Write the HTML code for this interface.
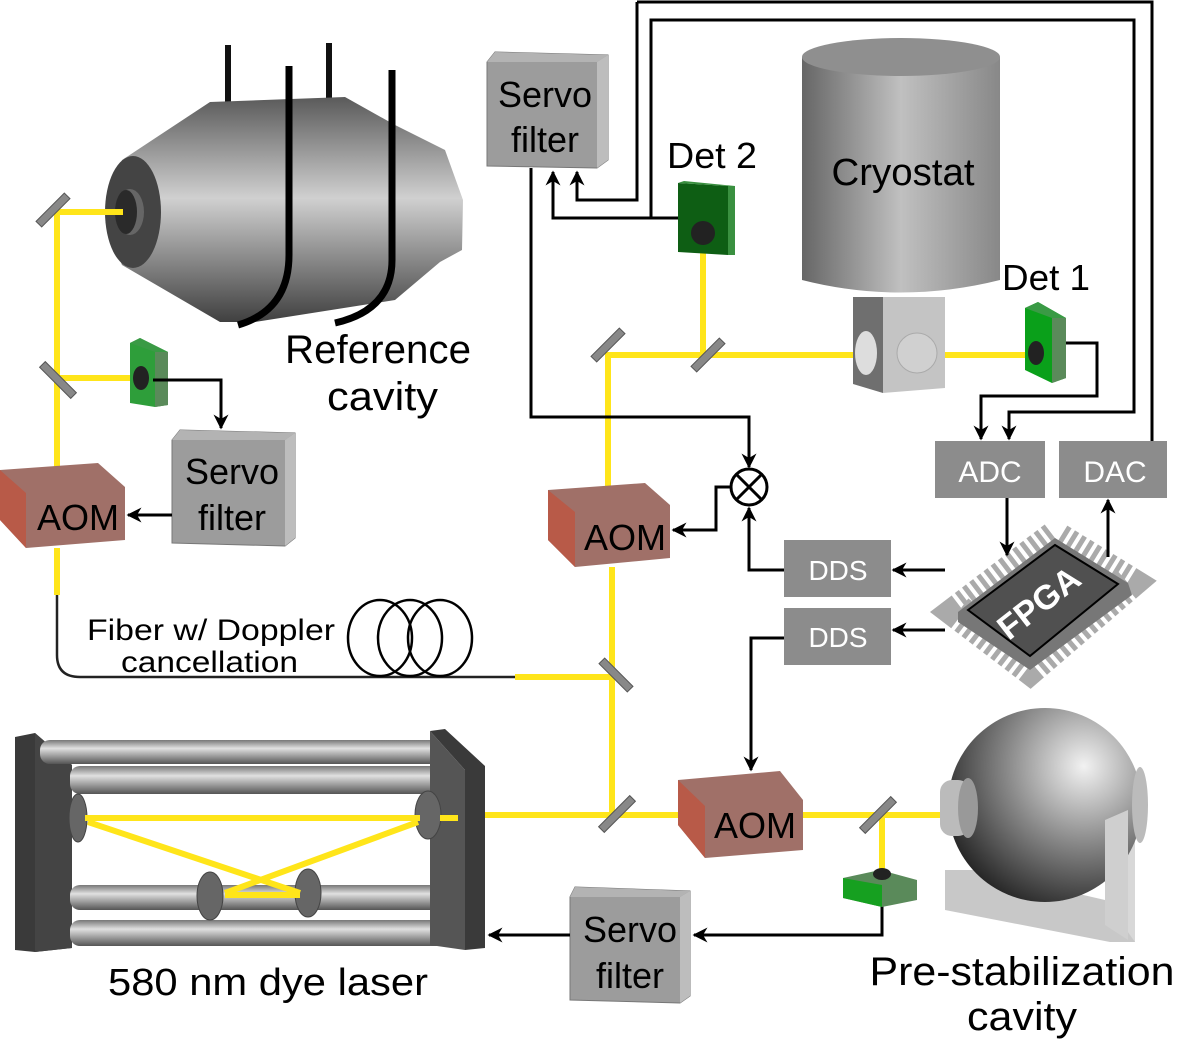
<!DOCTYPE html>
<html><head><meta charset="utf-8"><style>
html,body{margin:0;padding:0;background:#fff}
svg{display:block}
text{font-family:"Liberation Sans",sans-serif}
</style></head><body>
<svg width="1177" height="1042" viewBox="0 0 1177 1042" xmlns="http://www.w3.org/2000/svg">
<defs>
<linearGradient id="gv" x1="0" y1="0" x2="0" y2="1">
<stop offset="0" stop-color="#5a5a5a"/><stop offset="0.45" stop-color="#d0d0d0"/><stop offset="1" stop-color="#404040"/></linearGradient>
<linearGradient id="gh" x1="0" y1="0" x2="1" y2="0">
<stop offset="0" stop-color="#666"/><stop offset="0.5" stop-color="#c0c0c0"/><stop offset="1" stop-color="#888"/></linearGradient>
<linearGradient id="rod" x1="0" y1="0" x2="0" y2="1">
<stop offset="0" stop-color="#777"/><stop offset="0.35" stop-color="#e0e0e0"/><stop offset="1" stop-color="#555"/></linearGradient>
<radialGradient id="sph" cx="0.7" cy="0.3" r="0.8">
<stop offset="0" stop-color="#f2f2f2"/><stop offset="0.5" stop-color="#888"/><stop offset="1" stop-color="#222"/></radialGradient>
<marker id="ar" viewBox="0 0 10 10" refX="9" refY="5" markerWidth="5" markerHeight="5" orient="auto"><path d="M0,0 L10,5 L0,10 L3,5z" fill="#000"/></marker>
</defs>

<!-- Reference cavity -->
<line x1="228" y1="45" x2="228" y2="105" stroke="#111" stroke-width="6"/>
<line x1="329" y1="43" x2="329" y2="100" stroke="#111" stroke-width="6"/>
<path d="M122,160 L210,102 L345,97 L395,125 L445,150 L463,200 L462,250 L440,262 L395,300 L255,322 L220,322 L122,265 Q100,215 122,160z" fill="url(#gv)"/>
<ellipse cx="133" cy="212" rx="28" ry="56" fill="#444"/>
<ellipse cx="130" cy="212" rx="14" ry="23" fill="#666"/>
<ellipse cx="126" cy="212" rx="11" ry="22" fill="#2a2a2a"/>
<path d="M289,66 L289,255 Q289,310 238,325" fill="none" stroke="#000" stroke-width="7"/>
<path d="M392,70 L392,260 Q392,310 335,323" fill="none" stroke="#000" stroke-width="7"/>
<text x="285" y="363" font-size="40" textLength="186" lengthAdjust="spacingAndGlyphs">Reference</text>
<text x="327" y="410" font-size="40" textLength="111" lengthAdjust="spacingAndGlyphs">cavity</text>

<!-- yellow beams -->
<g stroke="#ffe51a" stroke-width="6" fill="none">
<path d="M123,212 L57,212 L57,470"/>
<path d="M57,378 L133,378"/>
<path d="M57,548 L57,595"/>
<path d="M703,245 L703,355"/>
<path d="M862,355 L608,355 L608,490"/>
<path d="M945,355 L1032,355"/>
<path d="M612,567 L612,815"/>
<path d="M515,677 L612,677"/>
<path d="M485,815 L680,815"/>
<path d="M803,815 L950,815"/>
<path d="M882,815 L882,873"/>
</g>

<!-- mirrors -->
<g fill="#888" stroke="#555" stroke-width="1">
<rect x="-4" y="-20" width="8" height="40" transform="translate(53,210) rotate(45)"/>
<rect x="-4" y="-22" width="8" height="44" transform="translate(58,380) rotate(-45)"/>
<rect x="-4" y="-20" width="8" height="40" transform="translate(608,345) rotate(45)"/>
<rect x="-4" y="-20" width="8" height="40" transform="translate(708,355) rotate(45)"/>
<rect x="-4" y="-20" width="8" height="40" transform="translate(616,675) rotate(-45)"/>
<rect x="-4" y="-22" width="8" height="44" transform="translate(617,814) rotate(45)"/>
<rect x="-4" y="-22" width="8" height="44" transform="translate(878,815) rotate(45)"/>
</g>

<!-- small detector left -->
<polygon points="130,343 140,338 168,352 168,405 155,407 130,403" fill="#2e9e3a"/>
<polygon points="155,352 168,352 168,405 155,407" fill="#5a8a5a"/>
<polygon points="130,343 140,338 168,352 155,352" fill="#3a9a45"/>
<ellipse cx="141" cy="378" rx="8" ry="12" fill="#222"/>

<!-- Det 2 -->
<polygon points="678,183 728,186 728,255 678,252" fill="#0e5e14"/>
<polygon points="728,186 735,186 735,255 728,255" fill="#3a9040"/>
<polygon points="678,183 684,181 735,186 728,186" fill="#3a9040"/>
<circle cx="703" cy="233" r="12" fill="#222"/>
<text x="667" y="168" font-size="36" textLength="90" lengthAdjust="spacingAndGlyphs">Det 2</text>

<!-- Cryostat -->
<path d="M802,57 L802,280 Q900,305 1000,280 L1000,57z" fill="url(#gh)"/>
<ellipse cx="901" cy="57" rx="99" ry="19" fill="#8f8f8f"/>
<polygon points="853,297 883,297 883,393 853,384" fill="#6f6f6f"/>
<polygon points="883,297 945,297 945,388 883,393" fill="#c4c4c4"/>
<ellipse cx="866" cy="353" rx="11" ry="22" fill="#ddd"/>
<circle cx="917" cy="353" r="20" fill="#d0d0d0" stroke="#aaa"/>
<text x="903" y="185" font-size="38" text-anchor="middle" textLength="143" lengthAdjust="spacingAndGlyphs">Cryostat</text>

<!-- Det 1 -->
<polygon points="1025,308 1038,302 1066,318 1066,378 1052,383 1025,370" fill="#0aa01a"/>
<polygon points="1052,318 1066,318 1066,378 1052,383" fill="#5a8a5a"/>
<polygon points="1025,308 1038,302 1066,318 1052,318" fill="#3a9a45"/>
<ellipse cx="1036" cy="353" rx="8" ry="12" fill="#222"/>
<text x="1002" y="290" font-size="36" textLength="88" lengthAdjust="spacingAndGlyphs">Det 1</text>

<!-- Servo boxes -->
<g>
<polygon points="487,62 495,52 608,55 608,160 597,168 487,166" fill="#9c9c9c" stroke="#777"/>
<polygon points="597,62 608,55 608,160 597,168" fill="#bdbdbd"/>
<polygon points="487,62 495,52 608,55 597,62" fill="#b3b3b3"/>
<text x="545" y="107" font-size="36" text-anchor="middle">Servo</text>
<text x="545" y="152" font-size="36" text-anchor="middle">filter</text>
</g>
<g>
<polygon points="172,440 180,430 295,433 295,538 285,546 172,543" fill="#9c9c9c" stroke="#777"/>
<polygon points="285,440 295,433 295,538 285,546" fill="#bdbdbd"/>
<polygon points="172,440 180,430 295,433 285,440" fill="#b3b3b3"/>
<text x="232" y="484" font-size="36" text-anchor="middle">Servo</text>
<text x="232" y="530" font-size="36" text-anchor="middle">filter</text>
</g>
<g>
<polygon points="570,897 575,887 690,891 690,996 680,1003 570,1000" fill="#9c9c9c" stroke="#777"/>
<polygon points="680,897 690,891 690,996 680,1003" fill="#bdbdbd"/>
<polygon points="570,897 575,887 690,891 680,897" fill="#b3b3b3"/>
<text x="630" y="942" font-size="36" text-anchor="middle">Servo</text>
<text x="630" y="988" font-size="36" text-anchor="middle">filter</text>
</g>

<!-- AOMs -->
<g>
<polygon points="0,470 98,463 125,487 125,540 26,548 0,520" fill="#a07068"/>
<polygon points="0,470 26,493 26,548 0,520" fill="#b85a48"/>
<text x="78" y="530" font-size="36" text-anchor="middle">AOM</text>
</g>
<g>
<polygon points="548,490 645,483 670,505 670,558 575,567 548,540" fill="#a07068"/>
<polygon points="548,490 575,512 575,567 548,540" fill="#b85a48"/>
<text x="625" y="550" font-size="36" text-anchor="middle">AOM</text>
</g>
<g>
<polygon points="678,780 780,771 803,800 803,850 705,858 678,825" fill="#a07068"/>
<polygon points="678,780 705,806 705,858 678,825" fill="#b85a48"/>
<text x="755" y="838" font-size="36" text-anchor="middle">AOM</text>
</g>

<!-- ADC/DAC/DDS -->
<rect x="935" y="441" width="110" height="57" fill="#8c8c8c"/>
<text x="990" y="482" font-size="30" fill="#fff" text-anchor="middle">ADC</text>
<rect x="1059" y="441" width="108" height="57" fill="#8c8c8c"/>
<text x="1115" y="482" font-size="30" fill="#fff" text-anchor="middle">DAC</text>
<rect x="784" y="540" width="107" height="57" fill="#8c8c8c"/>
<text x="838" y="580" font-size="28" fill="#fff" text-anchor="middle">DDS</text>
<rect x="784" y="608" width="107" height="57" fill="#8c8c8c"/>
<text x="838" y="647" font-size="28" fill="#fff" text-anchor="middle">DDS</text>

<!-- FPGA -->
<path d="M958,612 L1055,538 L1128,583 L1030,667z" fill="none" stroke="#aaa" stroke-width="34" stroke-dasharray="5 4"/>
<polygon points="958,612 1055,538 1128,583 1132,595 1030,670 958,622" fill="#777"/>
<polygon points="968,610 1055,545 1118,584 1030,656" fill="#505050" stroke="#000" stroke-width="2"/>
<text x="0" y="0" font-size="34" font-weight="bold" fill="#fff" text-anchor="middle" transform="translate(1046,612) rotate(-38)">FPGA</text>

<!-- crossed circle -->
<circle cx="749" cy="487" r="18" fill="#fff" stroke="#000" stroke-width="3"/>
<path d="M736,474 L762,500 M762,474 L736,500" stroke="#000" stroke-width="3"/>

<!-- black signal lines -->
<g fill="none" stroke="#000" stroke-width="3">
<path d="M153,380 L221,380 L221,428" marker-end="url(#ar)"/>
<path d="M172,515 L128,515" marker-end="url(#ar)"/>
<path d="M678,218 L553,218 L553,172" marker-end="url(#ar)"/>
<path d="M637,2 L1152,2 L1152,441 M637,2 L637,200 L577,200 L577,172" marker-end="url(#ar)"/>
<path d="M651,218 L651,20 L1134,20 L1134,412 L1009,412 L1009,439" marker-end="url(#ar)"/>
<path d="M1066,343 L1097,343 L1097,396 L981,396 L981,439" marker-end="url(#ar)"/>
<path d="M531,168 L531,417 L749,417 L749,467" marker-end="url(#ar)"/>
<path d="M731,487 L716,487 L716,530 L673,530" marker-end="url(#ar)"/>
<path d="M784,570 L749,570 L749,508" marker-end="url(#ar)"/>
<path d="M945,570 L893,570" marker-end="url(#ar)"/>
<path d="M945,630 L893,630" marker-end="url(#ar)"/>
<path d="M784,638 L751,638 L751,770" marker-end="url(#ar)"/>
<path d="M1007,498 L1007,555" marker-end="url(#ar)"/>
<path d="M1108,557 L1108,500" marker-end="url(#ar)"/>
<path d="M882,905 L882,935 L694,935" marker-end="url(#ar)"/>
<path d="M570,935 L489,935" marker-end="url(#ar)"/>
</g>

<!-- Fiber -->
<path d="M57,595 L57,655 Q57,677 80,677 L515,677" fill="none" stroke="#222" stroke-width="2.5"/>
<g fill="none" stroke="#000" stroke-width="2.5">
<ellipse cx="380" cy="638" rx="32" ry="38"/>
<ellipse cx="410" cy="638" rx="32" ry="38"/>
<ellipse cx="440" cy="638" rx="32" ry="38"/>
</g>
<text x="87" y="640" font-size="30" textLength="248" lengthAdjust="spacingAndGlyphs">Fiber w/ Doppler</text>
<text x="121" y="672" font-size="30" textLength="177" lengthAdjust="spacingAndGlyphs">cancellation</text>

<!-- Dye laser -->
<polygon points="15,737 35,733 72,765 72,948 35,952 15,950" fill="#3a3a3a"/>
<polygon points="35,733 72,765 72,948 35,952" fill="#444"/>
<rect x="40" y="740" width="400" height="24" rx="10" fill="url(#rod)"/>
<rect x="70" y="766" width="395" height="28" rx="10" fill="url(#rod)"/>
<rect x="70" y="885" width="370" height="25" rx="10" fill="url(#rod)"/>
<rect x="70" y="920" width="395" height="26" rx="10" fill="url(#rod)"/>
<polygon points="430,731 445,729 485,766 485,948 465,950 465,770" fill="#3a3a3a"/>
<polygon points="430,731 465,770 465,950 430,945" fill="#555"/>
<g fill="#666" stroke="#444">
<ellipse cx="78" cy="818" rx="9" ry="24"/>
<ellipse cx="428" cy="815" rx="13" ry="24"/>
<ellipse cx="210" cy="896" rx="13" ry="24"/>
<ellipse cx="308" cy="893" rx="13" ry="24"/>
</g>
<g stroke="#ffe51a" stroke-width="6" fill="none">
<path d="M85,818 L420,818 M88,822 L300,893 M418,822 L225,893 M225,895 L300,895 M440,818 L458,818"/>
</g>
<text x="268" y="995" font-size="38" text-anchor="middle" textLength="320" lengthAdjust="spacingAndGlyphs">580 nm dye laser</text>

<!-- Pre-stabilization cavity -->
<polygon points="945,870 945,910 1110,942 1135,942 1135,815 1105,800 1105,900 975,870" fill="#c8c8c8"/>
<polygon points="1105,800 1135,815 1135,942 1105,900" fill="#d8d8d8"/>
<circle cx="1045" cy="805" r="97" fill="url(#sph)"/>
<polygon points="1105,820 1128,810 1128,940 1105,925" fill="#cfcfcf"/>
<ellipse cx="1140" cy="805" rx="8" ry="38" fill="#bbb"/>
<rect x="940" y="780" width="30" height="56" rx="12" fill="#bbb"/>
<ellipse cx="968" cy="808" rx="10" ry="30" fill="#999"/>
<polygon points="843,878 880,870 917,880 917,900 882,907 843,898" fill="#5a8a5a"/>
<polygon points="843,878 882,885 882,907 843,898" fill="#16a020"/>
<ellipse cx="882" cy="874" rx="9" ry="6" fill="#222"/>
<text x="1022" y="985" font-size="40" text-anchor="middle" textLength="305" lengthAdjust="spacingAndGlyphs">Pre-stabilization</text>
<text x="1022" y="1030" font-size="40" text-anchor="middle" textLength="110" lengthAdjust="spacingAndGlyphs">cavity</text>
</svg>
</body></html>
